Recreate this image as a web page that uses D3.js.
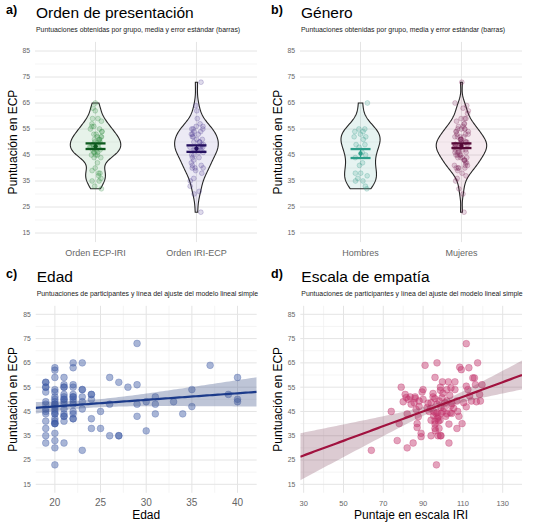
<!DOCTYPE html>
<html>
<head>
<meta charset="utf-8">
<script src="https://cdn.jsdelivr.net/npm/d3@7/dist/d3.min.js"></script>
<style>
  body { margin: 0; background: #fff; }
  text { font-family: "Liberation Sans", Arial, sans-serif; }
</style>
</head>
<body>
<script>
// ---- data ----
var ordenECPIRI = [65, 63, 62, 59, 59, 58, 57, 56, 56, 55, 55, 54, 54, 53, 53, 52, 52, 52, 51, 51, 51,
  50, 50, 50, 49, 49, 49, 48, 48, 48, 47, 47, 47, 46, 46, 46, 45, 45, 45, 44, 44, 42, 40, 39, 38, 38,
  37, 36, 35, 35, 33, 32];
var ordenIRIECP = [73, 64, 62, 59, 57, 56, 56, 55, 55, 55, 54, 54, 53, 53, 53, 52, 52, 51, 51, 50, 50,
  50, 49, 49, 48, 48, 48, 48, 47, 47, 47, 46, 46, 45, 45, 44, 44, 43, 42, 41, 41, 40, 40, 40, 39, 38,
  36, 35, 33, 31, 30, 23];
var hombres = [65, 55, 55, 54, 54, 53, 52, 52, 51, 49, 49, 48, 46, 45, 44, 42, 41, 38, 38, 37, 36, 35, 35, 33, 32];
var mujeres = [73, 65, 64, 63, 62, 61, 59, 59, 59, 58, 57, 57, 56, 56, 55, 55, 55, 55, 54, 54, 54, 53,
  53, 53, 52, 52, 52, 52, 51, 51, 51, 51, 50, 50, 50, 50, 50, 49, 49, 49, 49, 49, 48, 48, 48, 48, 48,
  47, 47, 47, 47, 46, 46, 46, 46, 45, 45, 45, 45, 44, 44, 44, 44, 43, 43, 43, 42, 42, 41, 41, 41, 40,
  40, 40, 40, 39, 38, 37, 36, 35, 32, 30, 23];

// [edad, puntuación ECP]
var edadPuntos = [
  [19, 57], [19, 57], [19, 55], [19, 55], [19, 53], [19, 49], [19, 48], [19, 46], [19, 45], [19, 44],
  [19, 41], [19, 38], [19, 35], [19, 32],
  [20, 63], [20, 62], [20, 59], [20, 54], [20, 53], [20, 51], [20, 50], [20, 49], [20, 48], [20, 48],
  [20, 47], [20, 46], [20, 45], [20, 44], [20, 44], [20, 42], [20, 41], [20, 40], [20, 40], [20, 40],
  [20, 36], [20, 33], [20, 30], [20, 23],
  [21, 59], [21, 56], [21, 55], [21, 55], [21, 52], [21, 51], [21, 50], [21, 50], [21, 49], [21, 48],
  [21, 46], [21, 44], [21, 43], [21, 43], [21, 41], [21, 32],
  [22, 65], [22, 63], [22, 56], [22, 55], [22, 52], [22, 51], [22, 51], [22, 50], [22, 49], [22, 48],
  [22, 45], [22, 44], [22, 42], [22, 42],
  [23, 65], [23, 54], [23, 54], [23, 51], [23, 49], [23, 46], [23, 29],
  [24, 52], [24, 52], [24, 50], [24, 42], [24, 38],
  [25, 45], [25, 38], [26, 59], [26, 48], [26, 35], [27, 57], [27, 35], [27, 35], [28, 55],
  [29, 73], [29, 56], [29, 48], [29, 43], [30, 49], [30, 37], [31, 51], [31, 48], [31, 44],
  [33, 49], [34, 44], [35, 54], [35, 47], [37, 64], [39, 52], [40, 59], [40, 50], [40, 49]
];

// [puntaje IRI, puntuación ECP]
var iriPuntos = [
  [64, 29], [74, 45], [77, 33], [78, 40], [79, 55], [80, 49], [81, 52], [81.5, 50.7], [82, 30],
  [82.5, 50], [83.5, 51], [82, 44], [85, 32], [85.5, 48.6], [86, 50.4], [86.5, 45.8], [87, 40],
  [87, 38.4], [88, 49.3], [89, 36], [89.5, 53], [90, 54], [91, 64], [92, 46.6], [93, 45], [94, 48.6],
  [94, 41.4], [94, 35], [95, 51], [95.3, 45], [95.3, 43.2], [96, 41], [96, 39.8], [96.2, 37], [96, 59],
  [97, 65], [97, 48], [97, 44.5], [97.3, 42.2], [97.5, 35], [96.7, 23], [97.7, 41], [98, 49.3],
  [98.7, 55], [98.7, 53.7], [98.7, 35], [99, 46.6], [99.5, 50.7], [99.7, 57.2], [100, 52.5], [100, 45],
  [101, 48.6], [101.4, 43], [102, 54], [102, 49.3], [102.7, 57.2], [103, 39.8], [103, 32], [103.4, 51.6],
  [103.7, 44.5], [104, 54.7], [104.5, 48.2], [105.4, 46.3], [106, 57.2], [106, 54], [107, 49.3],
  [107, 38], [107.4, 45], [108, 43], [108.4, 63.2], [109.2, 62.2], [109.6, 40], [110.4, 48.6],
  [111.7, 72.9], [111.7, 55.4], [111.7, 46.9], [112.5, 54], [113, 63], [113.4, 51.4], [114.3, 49.3],
  [115, 58.8], [115.8, 58.8], [116.3, 56], [116.8, 49], [117.4, 65], [118.4, 52], [118.8, 49.3],
  [119.6, 56], [84, 48], [86, 51], [88, 47], [90, 50], [92.5, 48.4], [93.8, 46.3], [95, 52.4],
  [95.9, 50.3], [96.5, 44.2], [97.6, 42.8], [98.5, 41.4], [99, 44.2], [100.6, 46.3], [102, 44],
  [104, 47.4], [104.4, 44.2], [99, 35], [96, 38], [98, 38], [87.6, 42.8], [89, 34.6]
];

var yTicks = [15, 25, 35, 45, 55, 65, 75, 85];
var yMinor = [20, 30, 40, 50, 60, 70, 80];
var edadTicks = [20, 25, 30, 35, 40];
var edadMinor = [22.5, 27.5, 32.5, 37.5];
var iriTicks = [30, 50, 70, 90, 110, 130];
var iriMinor = [40, 60, 80, 100, 120];

var subViolin = 'Puntuaciones obtenidas por grupo, media y error estándar (barras)';
var subLineal = 'Puntuaciones de participantes y línea del ajuste del modelo lineal simple';

// ---- drawing ----
var svg = d3.select('body').append('svg')
  .attr('width', 534)
  .attr('height', 529);

var gridMajor = '#e4e4e4', gridMinor = '#efefef';
var tickColor = '#666';

/**
 * Draws panel decorations: tag, titles, grid lines and y axis.
 */
function drawFrame(p) {
  var g = svg.append('g');
  p.g = g;

  g.append('text').attr('x', p.tagX).attr('y', p.top - 28.5)
    .attr('font-size', 12.5).attr('font-weight', 'bold').text(p.tag);
  g.append('text').attr('x', p.x0 + 1).attr('y', p.top - 24)
    .attr('font-size', 15.5).text(p.title);
  g.append('text').attr('x', p.x0 + 1).attr('y', p.top - 10.5)
    .attr('font-size', 6.9).attr('fill', '#222').text(p.subtitle);

  // panel extends 3.5 units past the tick range (ggplot expansion)
  var top = p.y(88.5), bottom = p.y(11.5);

  g.selectAll('.hminor').data(yMinor).enter().append('line')
    .attr('x1', p.x0).attr('x2', p.x1)
    .attr('y1', p.y).attr('y2', p.y)
    .attr('stroke', gridMinor).attr('stroke-width', 0.6);
  g.selectAll('.vminor').data(p.xMinor || []).enter().append('line')
    .attr('x1', p.x).attr('x2', p.x)
    .attr('y1', top).attr('y2', bottom)
    .attr('stroke', gridMinor).attr('stroke-width', 0.6);
  g.selectAll('.hmajor').data(yTicks).enter().append('line')
    .attr('x1', p.x0).attr('x2', p.x1)
    .attr('y1', p.y).attr('y2', p.y)
    .attr('stroke', gridMajor).attr('stroke-width', 1);
  g.selectAll('.vmajor').data(p.xMajor).enter().append('line')
    .attr('x1', p.x).attr('x2', p.x)
    .attr('y1', top).attr('y2', bottom)
    .attr('stroke', gridMajor).attr('stroke-width', 1);

  g.selectAll('.ytick').data(yTicks).enter().append('text')
    .attr('x', p.x0 - 5).attr('y', p.y)
    .attr('dy', '0.35em').attr('text-anchor', 'end')
    .attr('font-size', 6.8).attr('fill', tickColor)
    .text(function (d) { return d; });

  var cy = (top + bottom) / 2;
  g.append('text')
    .attr('transform', 'translate(' + (p.tagX + 11) + ',' + cy + ') rotate(-90)')
    .attr('text-anchor', 'middle').attr('font-size', 12)
    .text('Puntuación en ECP');

  // clip for marks
  p.clipId = 'clip-' + p.tag.charAt(0);
  svg.append('clipPath').attr('id', p.clipId).append('rect')
    .attr('x', p.x0).attr('y', top)
    .attr('width', p.x1 - p.x0).attr('height', bottom - top);
}

/**
 * Gaussian kernel density estimate trimmed to the data range (bw.nrd0).
 */
function density(values, n) {
  var sorted = values.slice().sort(d3.ascending);
  var sd = d3.deviation(sorted);
  var iqr = d3.quantileSorted(sorted, 0.75) - d3.quantileSorted(sorted, 0.25);
  var bw = 0.9 * Math.min(sd, iqr / 1.34) * Math.pow(sorted.length, -0.2);
  var lo = sorted[0], hi = sorted[sorted.length - 1];
  return d3.range(n + 1).map(function (i) {
    var v = lo + (hi - lo) * i / n;
    var dens = d3.mean(sorted, function (s) {
      var u = (v - s) / bw;
      return Math.exp(-0.5 * u * u) / Math.sqrt(2 * Math.PI);
    }) / bw;
    return [v, dens];
  });
}

function violinPanel(p) {
  p.xMajor = p.groups.map(function (gr, i) { return i + 1; });
  drawFrame(p);
  var g = p.g;

  var dens = p.groups.map(function (gr) { return density(gr.values, 120); });
  var maxDens = d3.max(dens, function (d) { return d3.max(d, function (e) { return e[1]; }); });
  var halfMax = (p.x(1.25) - p.x(1));

  var rand = d3.randomUniform.source(d3.randomLcg(p.seed))(-0.07, 0.07);
  var line = d3.line();

  p.groups.forEach(function (gr, i) {
    var xc = p.x(i + 1);
    var d = dens[i];
    var right = d.map(function (e) { return [xc + halfMax * e[1] / maxDens, p.y(e[0])]; });
    var left = d.slice().reverse().map(function (e) { return [xc - halfMax * e[1] / maxDens, p.y(e[0])]; });
    g.append('path')
      .attr('d', line(right.concat(left)) + 'Z')
      .attr('fill', gr.fill)
      .attr('stroke', '#262626')
      .attr('stroke-width', 1.1);

    g.append('g').selectAll('circle').data(gr.values).enter().append('circle')
      .attr('cx', function () { return p.x(i + 1 + rand()); })
      .attr('cy', function (v) { return p.y(v); })
      .attr('r', 2.4)
      .attr('fill', gr.color).attr('fill-opacity', 0.18)
      .attr('stroke', gr.color).attr('stroke-opacity', 0.35)
      .attr('stroke-width', 0.7);

    // mean with standard error bars
    var mean = d3.mean(gr.values);
    var se = d3.deviation(gr.values) / Math.sqrt(gr.values.length);
    var bar = g.append('g').attr('stroke', gr.dark).attr('stroke-width', 2.3);
    [mean - se, mean + se].forEach(function (v) {
      bar.append('line')
        .attr('x1', xc - 10).attr('x2', xc + 10)
        .attr('y1', p.y(v)).attr('y2', p.y(v));
    });
    bar.append('line')
      .attr('x1', xc).attr('x2', xc)
      .attr('y1', p.y(mean - se)).attr('y2', p.y(mean + se))
      .attr('stroke-width', 1.2);
    g.append('circle').attr('cx', xc).attr('cy', p.y(mean)).attr('r', 2.2).attr('fill', gr.dark);

    g.append('text')
      .attr('x', xc).attr('y', 255.5)
      .attr('text-anchor', 'middle')
      .attr('font-size', 9).attr('fill', tickColor)
      .text(gr.name);
  });
}

function scatterPanel(p) {
  drawFrame(p);
  var g = p.g;
  var clip = g.append('g').attr('clip-path', 'url(#' + p.clipId + ')');

  clip.append('g').selectAll('circle').data(p.points).enter().append('circle')
    .attr('cx', function (d) { return p.x(d[0]); })
    .attr('cy', function (d) { return p.y(d[1]); })
    .attr('r', 3.4)
    .attr('fill', p.color).attr('fill-opacity', 0.45)
    .attr('stroke', p.color).attr('stroke-opacity', 0.5)
    .attr('stroke-width', 0.6);

  // simple linear model with 95% confidence band
  var n = p.points.length;
  var mx = d3.mean(p.points, function (d) { return d[0]; });
  var my = d3.mean(p.points, function (d) { return d[1]; });
  var sxx = d3.sum(p.points, function (d) { return (d[0] - mx) * (d[0] - mx); });
  var sxy = d3.sum(p.points, function (d) { return (d[0] - mx) * (d[1] - my); });
  var b = sxy / sxx, a = my - b * mx;
  var sse = d3.sum(p.points, function (d) { var r = d[1] - a - b * d[0]; return r * r; });
  var s = Math.sqrt(sse / (n - 2));
  var tcrit = 1.98;

  var dom = p.x.domain();
  var xs = d3.range(81).map(function (i) { return dom[0] + (dom[1] - dom[0]) * i / 80; });
  var fit = xs.map(function (x) {
    var se = s * Math.sqrt(1 / n + (x - mx) * (x - mx) / sxx);
    var yh = a + b * x;
    return { x: x, y: yh, lo: yh - tcrit * se, hi: yh + tcrit * se };
  });

  clip.append('path')
    .attr('d', d3.area()
      .x(function (d) { return p.x(d.x); })
      .y0(function (d) { return p.y(d.lo); })
      .y1(function (d) { return p.y(d.hi); })(fit))
    .attr('fill', p.band);
  clip.append('path')
    .attr('d', d3.line()
      .x(function (d) { return p.x(d.x); })
      .y(function (d) { return p.y(d.y); })(fit))
    .attr('fill', 'none')
    .attr('stroke', p.lineColor)
    .attr('stroke-width', 2.2);

  g.selectAll('.xtick').data(p.xMajor).enter().append('text')
    .attr('x', p.x).attr('y', 505.5)
    .attr('text-anchor', 'middle')
    .attr('font-size', p.xTickSize).attr('fill', tickColor)
    .text(function (d) { return d; });
  g.append('text')
    .attr('x', (p.x0 + p.x1) / 2).attr('y', 519)
    .attr('text-anchor', 'middle').attr('font-size', 12)
    .text(p.xTitle);
}

var yTop = d3.scaleLinear().domain([15, 85]).range([233, 51]);
var yBottom = d3.scaleLinear().domain([15, 85]).range([484.3, 314.3]);

violinPanel({
  tag: 'a)', tagX: 6, title: 'Orden de presentación', subtitle: subViolin,
  x0: 35, x1: 257, top: 42,
  x: d3.scaleLinear().domain([0.4, 2.6]).range([35, 257]),
  y: yTop, seed: 0.21,
  groups: [
    { name: 'Orden ECP-IRI', values: ordenECPIRI, color: '#2e8b3e', dark: '#0d5a1e', fill: 'rgba(60,160,80,0.12)' },
    { name: 'Orden IRI-ECP', values: ordenIRIECP, color: '#4b3a92', dark: '#251060', fill: 'rgba(110,90,180,0.13)' }
  ]
});

violinPanel({
  tag: 'b)', tagX: 271, title: 'Género', subtitle: subViolin,
  x0: 300, x1: 522, top: 42,
  x: d3.scaleLinear().domain([0.4, 2.6]).range([300, 522]),
  y: yTop, seed: 0.63,
  groups: [
    { name: 'Hombres', values: hombres, color: '#2f9a86', dark: '#2e9e8a', fill: 'rgba(60,165,145,0.13)' },
    { name: 'Mujeres', values: mujeres, color: '#7a2456', dark: '#560a37', fill: 'rgba(160,60,110,0.11)' }
  ]
});

scatterPanel({
  tag: 'c)', tagX: 6, title: 'Edad', subtitle: subLineal,
  x0: 35.7, x1: 256.7, top: 306,
  x: d3.scaleLinear().domain([17.9, 42.1]).range([35.7, 256.7]),
  y: yBottom, xMajor: edadTicks, xMinor: edadMinor, xTickSize: 10,
  points: edadPuntos, xTitle: 'Edad',
  color: '#3f5ca3', lineColor: '#1b3a8a', band: 'rgba(70,90,140,0.35)'
});

scatterPanel({
  tag: 'd)', tagX: 271, title: 'Escala de empatía', subtitle: subLineal,
  x0: 300.3, x1: 522, top: 306,
  x: d3.scaleLinear().domain([28.3, 139.7]).range([300.3, 522]),
  y: yBottom, xMajor: iriTicks, xMinor: iriMinor, xTickSize: 7.5,
  points: iriPuntos, xTitle: 'Puntaje en escala IRI',
  color: '#c2346a', lineColor: '#a1123f', band: 'rgba(130,70,95,0.28)'
});
</script>
</body>
</html>
